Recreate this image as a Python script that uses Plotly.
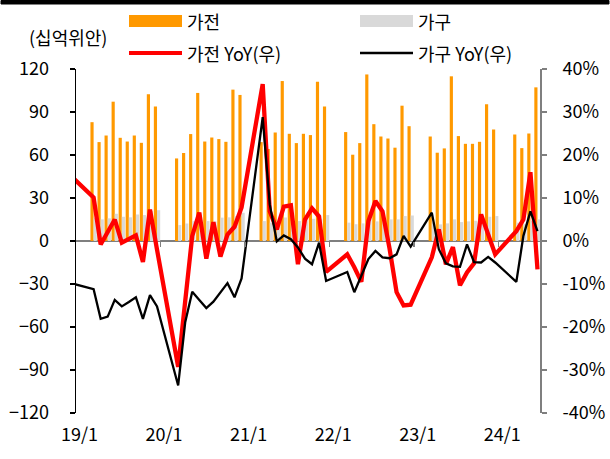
import plotly.graph_objects as go

# ---------------- data ----------------
bar_periods = [
    "19/03", "19/04", "19/05", "19/06", "19/07", "19/08", "19/09", "19/10", "19/11", "19/12",
    "20/03", "20/04", "20/05", "20/06", "20/07", "20/08", "20/09", "20/10", "20/11", "20/12",
    "21/03", "21/04", "21/05", "21/06", "21/07", "21/08", "21/09", "21/10", "21/11", "21/12",
    "22/03", "22/04", "22/05", "22/06", "22/07", "22/08", "22/09", "22/10", "22/11", "22/12",
    "23/03", "23/04", "23/05", "23/06", "23/07", "23/08", "23/09", "23/10", "23/11", "23/12",
    "24/03", "24/04", "24/05", "24/06",
]
line_periods = ["18/12"] + bar_periods

# 가전 (십억위안)
appliance = [
    82.9, 69.0, 73.6, 97.2, 72.0, 69.4, 73.6, 68.5, 102.4, 93.8,
    57.6, 61.4, 74.6, 103.3, 69.4, 72.2, 71.1, 69.2, 105.6, 101.9,
    69.0, 64.2, 75.7, 111.6, 74.8, 68.3, 74.8, 73.9, 111.1, 93.8,
    76.0, 60.2, 68.3, 116.2, 81.5, 72.9, 71.5, 65.1, 94.4, 80.1,
    72.9, 61.6, 64.6, 114.9, 73.2, 67.8, 67.8, 69.2, 95.4, 77.8,
    74.3, 64.8, 75.0, 107.2,
]
# 가구 (십억위안)
furniture = [
    16.2, 15.1, 15.8, 19.0, 16.9, 16.5, 18.5, 18.1, 20.8, 21.5,
    11.1, 12.2, 13.8, 14.3, 13.9, 13.6, 16.3, 16.5, 17.4, 19.7,
    13.9, 12.8, 13.9, 16.4, 14.1, 13.9, 15.3, 15.5, 15.1, 18.1,
    12.8, 11.7, 12.3, 15.1, 13.7, 15.1, 15.1, 15.1, 17.4, 17.8,
    13.0, 11.6, 12.3, 15.1, 13.2, 13.7, 14.1, 14.1, 16.9, 17.4,
    12.8, 11.7, 13.9, 15.1,
]
# 가전 YoY (%)
appliance_yoy = [
    14.8,
    10.1, -0.8, 2.3, 5.0, -0.4, 0.4, 1.3, -4.9, 7.3, -2.0,
    -29.3, -14.0, 1.2, 6.6, -4.1, 4.4, -3.6, 1.5, 3.3, 7.8,
    36.5, 6.9, 2.7, 8.0, 8.3, -5.4, 5.0, 7.6, 5.7, -7.2,
    -3.1, -6.1, -9.5, 4.6, 9.3, 6.9, -1.7, -11.9, -15.0, -14.8,
    -3.8, 2.7, -5.4, -1.4, -10.3, -7.3, -5.2, 6.2, 1.6, -3.1,
    2.3, 5.0, 16.0, -6.6,
]
# 가구 YoY (%)
furniture_yoy = [
    -9.9,
    -11.2, -18.1, -17.6, -13.7, -15.2, -14.2, -13.1, -18.1, -12.6, -15.2,
    -33.6, -18.9, -11.8, -13.7, -15.6, -14.1, -11.9, -9.8, -13.1, -8.7,
    28.8, 8.5, -0.1, 1.3, 0.4, -1.5, -4.1, -5.4, -0.4, -9.3,
    -7.2, -11.9, -8.1, -4.2, -2.3, -3.8, -4.0, -3.1, 1.2, -1.3,
    6.6, -1.9, -5.2, -5.9, -6.0, -0.8, -4.9, -5.0, -3.7, -5.0,
    -9.5, 1.2, 6.9, 2.3,
]

tick_labels = ["19/1", "20/1", "21/1", "22/1", "23/1", "24/1"]
left_ticks = [-120, -90, -60, -30, 0, 30, 60, 90, 120]
right_ticks = [-40, -30, -20, -10, 0, 10, 20, 30, 40]
right_tick_text = ["-40%", "-30%", "-20%", "-10%", "0%", "10%", "20%", "30%", "40%"]


def month_index(p):
    y, m = p.split("/")
    return (int(y) - 19) * 12 + int(m) - 1


bar_x = [month_index(p) for p in bar_periods]
line_x = [month_index(p) for p in line_periods]
tick_x = [month_index(t) for t in tick_labels]
year_bounds = [v - 0.5 for v in tick_x[1:]]
x_range = [-0.5, 65.5]

# ---------------- geometry helpers (pixels -> paper) ----------------
W, H = 610, 459
ML, MR, MT, MB = 76, 69, 69, 46
PW, PH = W - ML - MR, H - MT - MB


def px(x):
    return (x - ML) / PW


def py(y):
    return (H - MB - y) / PH


FONT = "Noto Sans CJK KR"
ORANGE = "#FF9900"
GRAY = "#D9D9D9"
RED = "#FF0000"
BLACK = "#000000"

fig = go.Figure()
fig.add_trace(go.Bar(x=bar_x, y=appliance, name="가전", marker=dict(color=ORANGE, line_width=0),
                     showlegend=False))
fig.add_trace(go.Bar(x=bar_x, y=furniture, name="가구", marker=dict(color=GRAY, line_width=0),
                     showlegend=False))
fig.add_trace(go.Scatter(x=line_x, y=appliance_yoy, name="가전 YoY(우)", mode="lines",
                         line=dict(color=RED, width=4.3), xaxis="x2", yaxis="y2", showlegend=False))
fig.add_trace(go.Scatter(x=line_x, y=furniture_yoy, name="가구 YoY(우)", mode="lines",
                         line=dict(color=BLACK, width=2.3), xaxis="x2", yaxis="y2", showlegend=False))

axis_font = dict(family=FONT, size=18, color="#000000")

fig.update_layout(
    width=W, height=H, autosize=False,
    margin=dict(l=ML, r=MR, t=MT, b=MB, pad=0, autoexpand=False),
    paper_bgcolor="white", plot_bgcolor="white",
    barmode="group", bargap=0.1, bargroupgap=0,
    font=dict(family=FONT, size=18, color="#000000"),
    showlegend=False,
    xaxis=dict(range=x_range, tickvals=tick_x, ticktext=tick_labels, ticks="",
               showline=False, showgrid=False, zeroline=False, tickfont=axis_font,
               ticklabelstandoff=9, automargin=False),
    xaxis2=dict(range=x_range, overlaying="x", anchor="free", position=0.5, side="bottom",
                tickvals=year_bounds, ticks="outside", ticklen=5, tickwidth=1.5,
                tickcolor="#7F7F7F", showticklabels=False, showline=False,
                showgrid=False, zeroline=False, automargin=False),
    yaxis=dict(range=[-120, 120], tickvals=left_ticks, ticks="outside", ticklen=5,
               tickwidth=1.5, tickcolor="#000000", showline=True, linecolor="#000000",
               linewidth=1.5, showgrid=False, zeroline=True, zerolinecolor="#7F7F7F",
               zerolinewidth=2, tickfont=axis_font, ticklabelstandoff=17, automargin=False),
    yaxis2=dict(range=[-40, 40], tickvals=right_ticks, ticktext=right_tick_text, overlaying="y",
                anchor="free", position=1.0, side="right", ticks="outside", ticklen=5,
                tickwidth=1.5, tickcolor="#7F7F7F", showline=True, linecolor="#7F7F7F",
                linewidth=2, showgrid=False, zeroline=False, tickfont=axis_font,
                ticklabelstandoff=12, automargin=False),
)

# legend drawn as swatches + text
row1, row2 = 21, 53
shapes = [
    dict(type="rect", xref="paper", yref="paper", x0=px(129), x1=px(182), y0=py(row1 + 6),
         y1=py(row1 - 6), fillcolor=ORANGE, line_width=0, layer="above"),
    dict(type="rect", xref="paper", yref="paper", x0=px(360), x1=px(413), y0=py(row1 + 6),
         y1=py(row1 - 6), fillcolor=GRAY, line_width=0, layer="above"),
    dict(type="line", xref="paper", yref="paper", x0=px(129), x1=px(182), y0=py(row2),
         y1=py(row2), line=dict(color=RED, width=4), layer="above"),
    dict(type="line", xref="paper", yref="paper", x0=px(360), x1=px(413), y0=py(row2),
         y1=py(row2), line=dict(color=BLACK, width=2.5), layer="above"),
    # thin black rule along the top edge of the figure
    dict(type="rect", xref="paper", yref="paper", x0=px(1), x1=px(W - 1), y0=py(4),
         y1=py(0.5), fillcolor=BLACK, line=dict(color=BLACK, width=1), layer="above"),
]
legend_font = dict(family=FONT, size=18, color="#000000")
annotations = [
    dict(text="가전", x=px(185), y=py(row1), xref="paper", yref="paper", xanchor="left",
         yanchor="middle", showarrow=False, font=legend_font),
    dict(text="가구", x=px(416), y=py(row1), xref="paper", yref="paper", xanchor="left",
         yanchor="middle", showarrow=False, font=legend_font),
    dict(text="가전 YoY(우)", x=px(185), y=py(row2), xref="paper", yref="paper",
         xanchor="left", yanchor="middle", showarrow=False, font=legend_font),
    dict(text="가구 YoY(우)", x=px(416), y=py(row2), xref="paper", yref="paper",
         xanchor="left", yanchor="middle", showarrow=False, font=legend_font),
    dict(text="(십억위안)", x=px(27), y=py(37), xref="paper", yref="paper", xanchor="left",
         yanchor="middle", showarrow=False, font=legend_font),
]
fig.update_layout(shapes=shapes, annotations=annotations)

fig.write_html(
    "out.html",
    config={"displayModeBar": False, "staticPlot": True},
    post_script="document.body.style.margin='0';document.body.style.padding='0';"
                "document.body.style.overflow='hidden';",
)
